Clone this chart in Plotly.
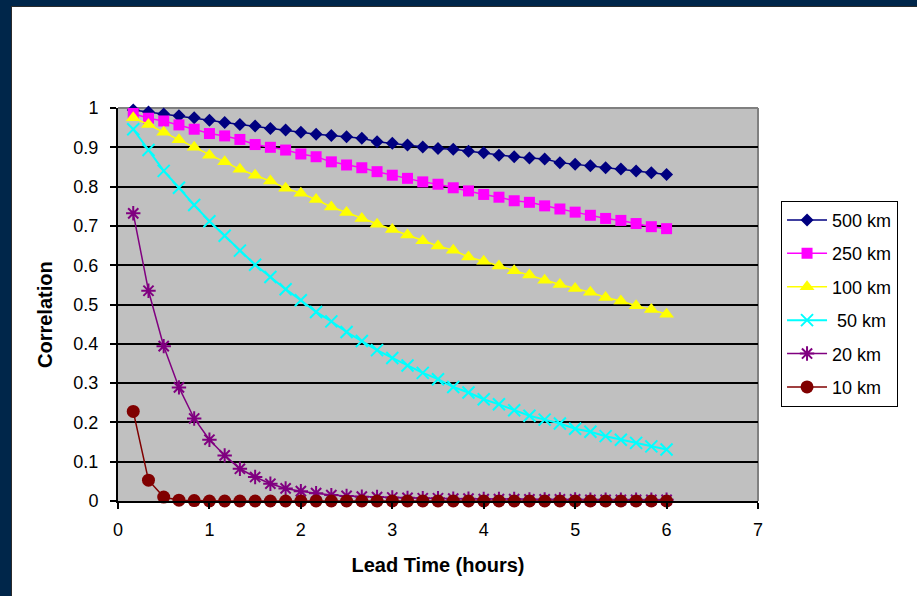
import plotly.graph_objects as go

# Lead times at 10-minute steps, in hours
lead_minutes = list(range(10, 361, 10))
lead_hours = [m / 60 for m in lead_minutes]

corr_500km = [0.995, 0.99, 0.985, 0.98, 0.975, 0.969, 0.963, 0.958, 0.954, 0.948,
              0.944, 0.938, 0.933, 0.930, 0.927, 0.923, 0.914, 0.910, 0.906, 0.901,
              0.897, 0.895, 0.890, 0.886, 0.880, 0.876, 0.873, 0.870, 0.861, 0.857,
              0.853, 0.848, 0.845, 0.840, 0.835, 0.831]
corr_250km = [0.986, 0.974, 0.967, 0.957, 0.946, 0.935, 0.929, 0.920, 0.907, 0.900,
              0.893, 0.883, 0.876, 0.863, 0.855, 0.848, 0.838, 0.829, 0.821, 0.812,
              0.806, 0.797, 0.789, 0.780, 0.773, 0.764, 0.760, 0.751, 0.743, 0.735,
              0.727, 0.719, 0.714, 0.706, 0.698, 0.693]
corr_100km = [0.975, 0.958, 0.938, 0.919, 0.900, 0.880, 0.863, 0.844, 0.829, 0.814,
              0.796, 0.783, 0.767, 0.748, 0.734, 0.719, 0.704, 0.691, 0.677, 0.662,
              0.649, 0.638, 0.621, 0.610, 0.598, 0.586, 0.575, 0.562, 0.551, 0.541,
              0.531, 0.518, 0.509, 0.497, 0.487, 0.475]
corr_50km = [0.946, 0.893, 0.840, 0.797, 0.753, 0.712, 0.675, 0.637, 0.601, 0.570,
             0.539, 0.511, 0.481, 0.457, 0.430, 0.407, 0.384, 0.364, 0.345, 0.326,
             0.310, 0.290, 0.276, 0.259, 0.246, 0.231, 0.217, 0.207, 0.197, 0.184,
             0.176, 0.165, 0.156, 0.148, 0.139, 0.131]
corr_20km = [0.732, 0.535, 0.394, 0.289, 0.210, 0.156, 0.116, 0.082, 0.061, 0.044,
             0.032, 0.025, 0.020, 0.015, 0.013, 0.011, 0.010, 0.009, 0.008, 0.007,
             0.007, 0.006, 0.006, 0.005, 0.005, 0.005, 0.004, 0.004, 0.004, 0.004,
             0.003, 0.003, 0.003, 0.003, 0.003, 0.003]
corr_10km = [0.228, 0.053, 0.010, 0.002, 0.001, 0.0, 0.0, 0.0, 0.0, 0.0,
             0.0, 0.0, 0.0, 0.0, 0.0, 0.0, 0.0, 0.0, 0.0, 0.0,
             0.0, 0.0, 0.0, 0.0, 0.0, 0.0, 0.0, 0.0, 0.0, 0.0,
             0.0, 0.0, 0.0, 0.0, 0.0, 0.0]

series_names = ["500 km", "250 km", "100 km", " 50 km", "20 km", "10 km"]
series_values = [corr_500km, corr_250km, corr_100km, corr_50km, corr_20km, corr_10km]

x_ticks = [0, 1, 2, 3, 4, 5, 6, 7]
y_ticks = [0, 0.1, 0.2, 0.3, 0.4, 0.5, 0.6, 0.7, 0.8, 0.9, 1]
y_tick_text = ["0", "0.1", "0.2", "0.3", "0.4", "0.5", "0.6", "0.7", "0.8", "0.9", "1"]

styles = [
    dict(color="#000080", symbol="diamond", size=10, lw=1.5),
    dict(color="#ff00ff", symbol="square", size=11, lw=1.5),
    dict(color="#ffff00", symbol="triangle-up", size=13, lw=1.5),
    dict(color="#00ffff", symbol="x-thin-open", size=12, lw=2),
    dict(color="#800080", symbol="asterisk-open", size=12, lw=1.5),
    dict(color="#800000", symbol="circle", size=13, lw=1.5),
]

FONT = "Arial, 'Liberation Sans', sans-serif"

fig = go.Figure()
for i, (name, vals, st) in enumerate(zip(series_names, series_values, styles)):
    open_marker = st["symbol"].endswith("-open")
    fig.add_trace(go.Scatter(
        x=lead_hours, y=vals, name=name, mode="lines+markers",
        legendgroup=f"g{i}", cliponaxis=False,
        line=dict(color=st["color"], width=st["lw"]),
        marker=dict(symbol=st["symbol"], size=st["size"], color=st["color"],
                    line=dict(color=st["color"], width=2 if open_marker else 0)),
    ))

navy = "#00264a"
fig.update_layout(
    width=917, height=596,
    margin=dict(l=118, r=159, t=108, b=95),
    paper_bgcolor="white",
    plot_bgcolor="#c0c0c0",
    font=dict(family=FONT, size=18, color="black"),
    showlegend=True,
    legend=dict(
        x=1.036, y=0.764, xanchor="left", yanchor="top",
        bgcolor="white", bordercolor="black", borderwidth=1,
        font=dict(family=FONT, size=18, color="black"),
        tracegroupgap=7, traceorder="grouped",
        itemwidth=40,
    ),
    xaxis=dict(
        range=[0, 7], tickvals=x_ticks, ticktext=[str(v) for v in x_ticks],
        showgrid=False, zeroline=False,
        showline=True, linecolor="black", linewidth=2,
        ticks="outside", ticklen=6, tickwidth=1.5, tickcolor="black",
        ticklabelstandoff=5,
        title=dict(text="<b>Lead Time (hours)</b>", font=dict(family=FONT, size=20),
                   standoff=19),
        fixedrange=True,
    ),
    yaxis=dict(
        range=[0, 1], tickvals=y_ticks, ticktext=y_tick_text,
        showgrid=True, gridcolor="black", gridwidth=1.5,
        zeroline=False,
        showline=True, linecolor="black", linewidth=2,
        ticks="outside", ticklen=6, tickwidth=1.5, tickcolor="black",
        ticklabelstandoff=8,
        fixedrange=True,
    ),
    annotations=[
        dict(text="<b>Correlation</b>", xref="paper", yref="paper",
             x=(45 - 118) / 640, y=(501 - 315) / 393, textangle=-90,
             showarrow=False, xanchor="center", yanchor="middle",
             font=dict(family=FONT, size=20, color="black")),
    ],
    shapes=[
        # plot-area frame on the top and right edges
        dict(type="line", xref="paper", yref="paper", x0=0, x1=1, y0=1, y1=1,
             line=dict(color="#808080", width=2), layer="between"),
        dict(type="line", xref="paper", yref="paper", x0=1, x1=1, y0=0, y1=1,
             line=dict(color="#808080", width=2), layer="between"),
        # slide border bands
        dict(type="rect", xref="paper", yref="paper",
             x0=-0.19, x1=(11 - 118) / 640, y0=-0.25, y1=1.28,
             fillcolor=navy, line=dict(width=0), layer="above"),
        dict(type="rect", xref="paper", yref="paper",
             x0=-0.19, x1=1.26, y0=(501 - 6) / 393, y1=1.28,
             fillcolor=navy, line=dict(width=0), layer="above"),
        dict(type="line", xref="paper", yref="paper",
             x0=(11.5 - 118) / 640, x1=(11.5 - 118) / 640, y0=-0.25, y1=(501 - 6) / 393,
             line=dict(color="#2b2b2b", width=1), layer="above"),
        dict(type="line", xref="paper", yref="paper",
             x0=(11 - 118) / 640, x1=1.26, y0=(501 - 6.5) / 393, y1=(501 - 6.5) / 393,
             line=dict(color="#2b2b2b", width=1), layer="above"),
    ],
)

fig.write_html("out.html")
